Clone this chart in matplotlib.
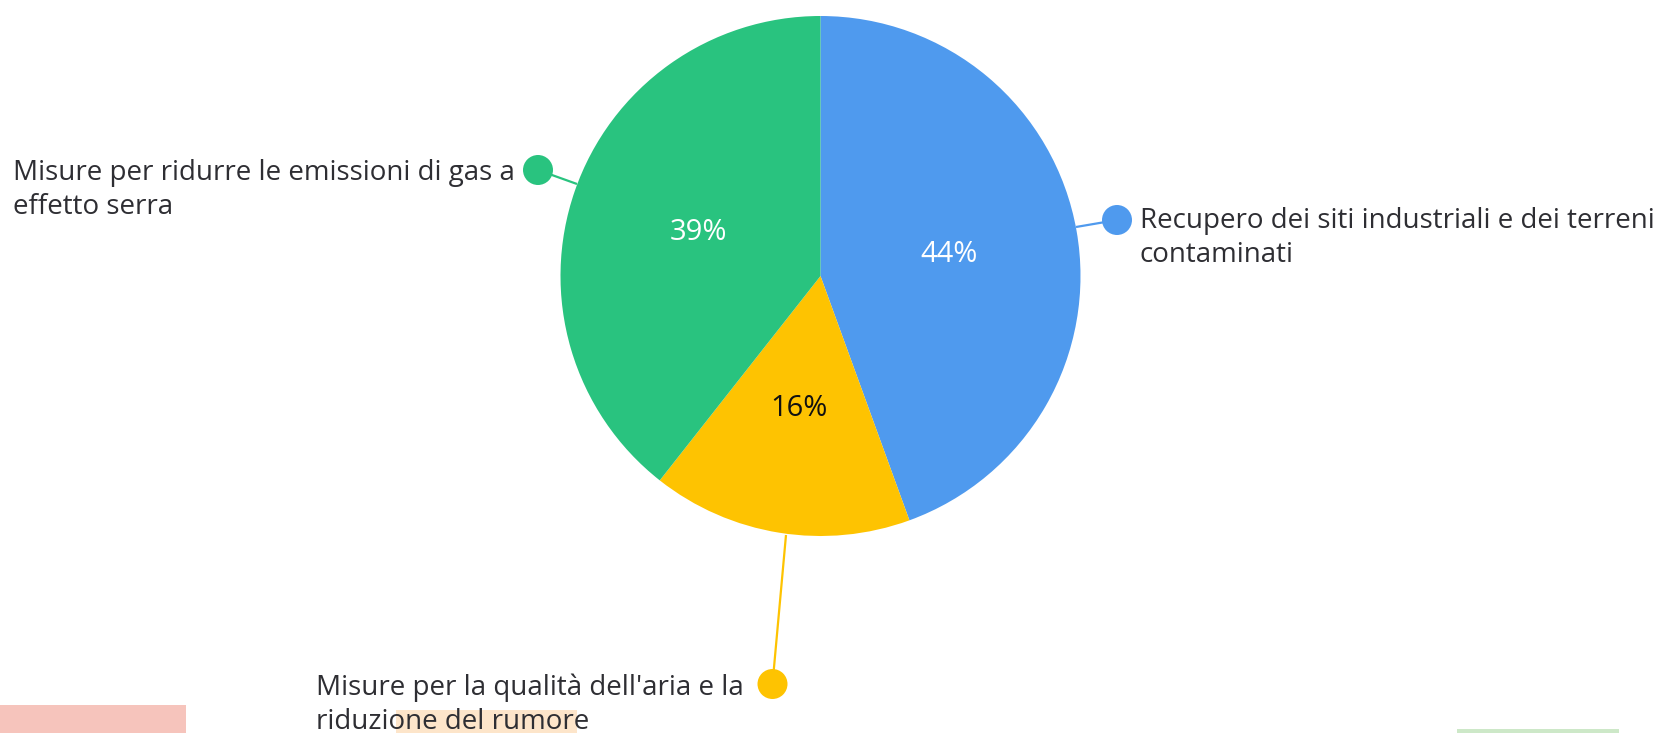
import matplotlib
matplotlib.use("Agg")
import matplotlib.pyplot as plt
from matplotlib.patches import Rectangle, Circle

plt.rcParams['font.family'] = ['Open Sans', 'DejaVu Sans']

# ---- data ----
categories = [
    "Recupero dei siti industriali e dei terreni\ncontaminati",
    "Misure per la qualità dell'aria e la\nriduzione del rumore",
    "Misure per ridurre le emissioni di gas a\neffetto serra",
]
values = [44, 16, 39]
pct_labels = ["44%", "16%", "39%"]
colors = ["#4F9AEE", "#FEC301", "#29C37F"]
pct_colors = ["white", "#111111", "white"]

W, H = 1668, 733
fig = plt.figure(figsize=(W / 100, H / 100), dpi=100)
ax = fig.add_axes([0, 0, 1, 1])
ax.set_xlim(0, W)
ax.set_ylim(0, H)
ax.set_aspect('equal')
ax.axis('off')

def Y(y):
    return H - y

# decorative bits at the bottom of the screenshot
ax.add_patch(Rectangle((0, Y(733)), 186, 28, color="#F6C4BC", lw=0, zorder=0))
ax.add_patch(Rectangle((396, Y(733)), 181, 23, color="#FDE5CA", lw=0, zorder=0))
ax.add_patch(Rectangle((1457, Y(733)), 162, 4, color="#CDE8C8", lw=0, zorder=0))

cx, cy, R = 820.5, Y(276), 260
wedges, _ = ax.pie(values, colors=colors, startangle=90, counterclock=False,
                   center=(cx, cy), radius=R, frame=True,
                   wedgeprops=dict(linewidth=0))
ax.set_xlim(0, W)
ax.set_ylim(0, H)
ax.axis('off')

# percentage labels
pct_pos = [(949, 254), (799, 408), (698, 232)]
for (x, y), t, c in zip(pct_pos, pct_labels, pct_colors):
    ax.text(x, Y(y), t, ha='center', va='center', fontsize=21, color=c)

# leader lines, dots, texts
dots = [(1117, 220), (772.5, 684), (538, 170)]
edge = [(1076, 227), (786, 535), (577, 184)]
text_pos = [(1140, 228), (316, 695), (13, 180)]
for i, cat in enumerate(categories):
    dx, dy = dots[i]
    ex, ey = edge[i]
    ax.plot([ex, dx], [Y(ey), Y(dy)], color=colors[i], lw=1.6, zorder=3,
            solid_capstyle='butt')
    ax.add_patch(Circle((dx, Y(dy)), 15, color=colors[i], lw=0, zorder=4))
    tx, ty = text_pos[i]
    for k, line in enumerate(cat.split("\n")):
        ax.text(tx, Y(ty + 34 * k), line, ha='left', va='baseline',
                fontsize=20, color="#2E2E33", zorder=5)

fig.savefig("out.png", dpi=100, facecolor="white")
